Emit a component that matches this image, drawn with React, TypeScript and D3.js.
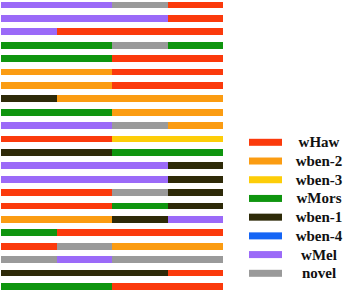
import React, { useEffect, useRef } from "react";
import * as d3 from "d3";

// strains, in legend order
const strains = ["wHaw", "wben-2", "wben-3", "wMors", "wben-1", "wben-4", "wMel", "novel"];
const strainColors = ["#fb3a0c", "#fb9c12", "#fdcd08", "#0f950f", "#2e2a08", "#1565f5", "#9b6af8", "#9a9a9a"];

// each row has four equal segments, read left to right
const rows = [
  ["wMel", "wMel", "novel", "wHaw"],
  ["wMel", "wMel", "wMel", "wHaw"],
  ["wMel", "wHaw", "wHaw", "wHaw"],
  ["wMors", "wMors", "novel", "wMors"],
  ["wMors", "wMors", "wHaw", "wHaw"],
  ["wben-2", "wben-2", "wHaw", "wHaw"],
  ["wben-2", "wben-2", "wHaw", "wHaw"],
  ["wben-1", "wben-2", "wben-2", "wben-2"],
  ["wMors", "wMors", "wben-2", "wben-2"],
  ["wMel", "wMel", "novel", "wben-2"],
  ["wHaw", "wHaw", "wben-3", "wben-3"],
  ["wben-1", "wben-1", "wMors", "wMors"],
  ["wMel", "wMel", "wMel", "wben-1"],
  ["wMel", "wMel", "wMel", "wben-1"],
  ["wHaw", "wHaw", "novel", "wben-1"],
  ["wHaw", "wHaw", "wMors", "wben-1"],
  ["wben-2", "wben-2", "wben-1", "wMel"],
  ["wMors", "wHaw", "wHaw", "wHaw"],
  ["wHaw", "novel", "wben-2", "wben-2"],
  ["novel", "wMel", "novel", "novel"],
  ["wben-1", "wben-1", "wben-1", "wHaw"],
  ["wMors", "wMors", "wHaw", "wHaw"],
];

const width = 350;
const height = 290;

export default function App() {
  const ref = useRef<SVGSVGElement>(null);

  useEffect(() => {
    const svg = d3.select(ref.current);
    svg.selectAll("*").remove();

    const color = d3.scaleOrdinal<string, string>().domain(strains).range(strainColors);

    const x = d3.scaleLinear().domain([0, 4]).range([1, 223]);
    const y = d3
      .scalePoint<number>()
      .domain(d3.range(rows.length))
      .range([5, 286.4]);
    const barH = 6.8;

    const segs = rows.flatMap((r, i) => r.map((s, j) => ({ row: i, pos: j, strain: s })));

    svg.append("g")
      .attr("shape-rendering", "crispEdges")
      .selectAll("rect")
      .data(segs)
      .enter()
      .append("rect")
      .attr("x", (d) => x(d.pos))
      .attr("y", (d) => (y(d.row) as number) - barH / 2)
      .attr("width", x(1) - x(0))
      .attr("height", barH)
      .attr("fill", (d) => color(d.strain));

    // legend
    const ly = d3.scalePoint<string>().domain(strains).range([142.3, 273.3]);
    const legend = svg.append("g");

    strains.forEach((s) => {
      const row = legend.append("g").attr("transform", `translate(0,${ly(s)})`);
      row.append("rect")
        .attr("x", 249)
        .attr("y", -3.5)
        .attr("width", 33)
        .attr("height", 7)
        .attr("fill", color(s));
      row.append("text")
        .attr("x", 319)
        .attr("y", 5)
        .style("text-anchor", "middle")
        .style("font-family", "'Liberation Serif', 'DejaVu Serif', serif")
        .style("font-weight", "bold")
        .style("font-size", "15px")
        .style("fill", "#111")
        .text(s);
    });
  }, []);

  return (
    <svg
      ref={ref}
      width={width}
      height={height}
      style={{ position: "absolute", left: 0, top: 0, background: "#fff" }}
    />
  );
}
